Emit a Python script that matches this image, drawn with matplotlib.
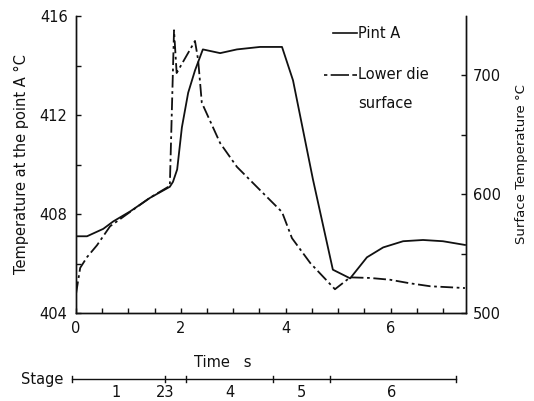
import matplotlib
matplotlib.use("Agg")
import matplotlib.pyplot as plt
from matplotlib.lines import Line2D
import matplotlib.transforms as mtransforms

# ---- data ----
pint_t = [0.0, 0.21, 0.52, 0.71, 1.03, 1.41, 1.79, 1.85, 1.93, 2.02, 2.14, 2.27, 2.42,
          2.75, 3.07, 3.51, 3.93, 4.14, 4.52, 4.90, 5.23, 5.55, 5.86, 6.24, 6.62, 7.00, 7.42]
pint_v = [407.1, 407.1, 407.4, 407.7, 408.1, 408.65, 409.1, 409.3, 409.8, 411.5, 412.9, 413.8, 414.65,
          414.5, 414.65, 414.75, 414.75, 413.4, 409.4, 405.75, 405.4, 406.25, 406.65, 406.9, 406.95, 406.9, 406.75]

die_t = [0.0, 0.08, 0.21, 0.40, 0.65, 1.03, 1.41, 1.79, 1.87, 1.92, 2.27, 2.33, 2.40,
         2.75, 3.07, 3.51, 3.93, 4.12, 4.47, 4.94, 5.23, 5.61, 5.99, 6.37, 6.76, 7.42]
die_v = [516, 538, 547, 557, 573, 585, 597, 607, 738, 702, 729, 713, 677,
         643, 623, 603.5, 585, 563, 542, 520, 530, 529.5, 528, 525, 522.5, 521]

stage_bounds = [0.0, 1.70, 2.10, 3.75, 4.85, 7.25]
stage_labels = ["1", "23", "4", "5", "6"]
stage_label_x = [0.77, 1.70, 2.93, 4.31, 6.03]

left_ticks = [404, 408, 412, 416]
right_ticks = [500, 600, 700]
x_ticks = [0, 2, 4, 6]

plt.rcParams['font.family'] = ['DejaVu Sans']
fig = plt.figure(figsize=(5.34, 4.01), dpi=100)
ax = fig.add_axes([76/534, 1-313/401, (466-76)/534, (313-16)/401])
ax2 = ax.twinx()

ink = '#111111'
ax.plot(pint_t, pint_v, color=ink, lw=1.3)
ax2.plot(die_t, die_v, color=ink, lw=1.3, linestyle=(0, (7, 2, 1.5, 2)))

ax.set_xlim(0, 7.44)
ax.set_ylim(404, 416)
ax2.set_ylim(500, 750)

ax.set_xticks(x_ticks)
ax.set_xticks([i*0.5 for i in range(15)], minor=True)
ax.set_yticks(left_ticks)
ax.set_yticks([406, 410, 414], minor=True)
ax2.set_yticks(right_ticks)
ax2.set_yticks([550, 650], minor=True)

for a in (ax, ax2):
    a.spines['top'].set_visible(False)
    for s in a.spines.values():
        s.set_color(ink)
        s.set_linewidth(1.0)
ax.tick_params(axis='both', which='both', direction='in', length=3.5, width=1, colors=ink, labelsize=10.5)
ax.tick_params(axis='y', pad=6)
ax.tick_params(axis='x', pad=6)
ax2.tick_params(axis='y', which='both', direction='in', length=3.5, width=1, colors=ink, labelsize=10.5, pad=5)

ax.set_ylabel("Temperature at the point A °C", fontsize=10.5, color=ink, labelpad=8)
ax2.set_ylabel("Surface Temperature °C", fontsize=9.5, color=ink, labelpad=10)

# legend (manual)
ax.add_line(Line2D([4.90, 5.36], [415.3, 415.3], color=ink, lw=1.2))
ax.text(5.38, 415.3, "Pint A", fontsize=10.5, va='center', ha='left', color=ink)
ax.add_line(Line2D([4.73, 5.36], [413.62, 413.62], color=ink, lw=1.2, linestyle=(0, (2, 2, 9, 0))))
ax.text(5.38, 413.62, "Lower die", fontsize=10.5, va='center', ha='left', color=ink)
ax.text(5.38, 412.45, "surface", fontsize=10.5, va='center', ha='left', color=ink)

# time label and stage bar
trans = mtransforms.blended_transform_factory(ax.transData, ax.transAxes)
ax.text(2.8, -0.168, "Time   s", transform=trans, fontsize=10.5, ha='center', va='center', color=ink)
ax.add_line(Line2D([stage_bounds[0] - 0.08, stage_bounds[-1]], [-0.222, -0.222], transform=trans,
                   color=ink, lw=1.0, clip_on=False))
for b in [stage_bounds[0] - 0.08] + stage_bounds[1:]:
    ax.add_line(Line2D([b, b], [-0.232, -0.212], transform=trans, color=ink, lw=1.0, clip_on=False))
for lx, lab in zip(stage_label_x, stage_labels):
    ax.text(lx, -0.268, lab, transform=trans, fontsize=10.5, ha='center', va='center', color=ink)
ax.text(-0.24, -0.225, "Stage", transform=trans, fontsize=10.5, ha='right', va='center', color=ink)

fig.savefig("out.png", dpi=100)
